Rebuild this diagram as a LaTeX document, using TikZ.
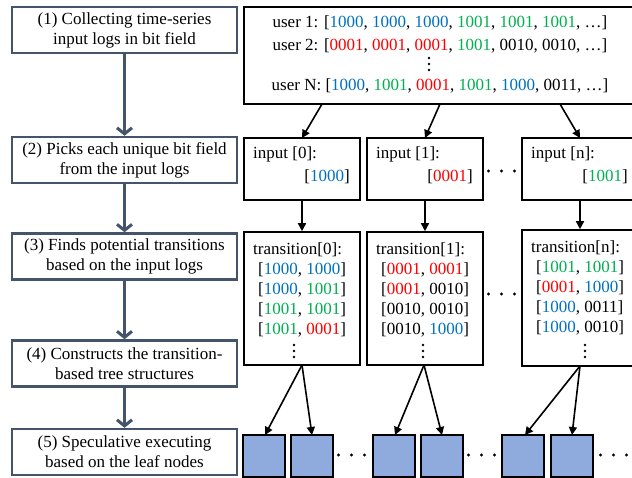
\documentclass[tikz,border=0pt]{standalone}
\usepackage{fontspec}
\setmainfont{Liberation Serif}
\usetikzlibrary{arrows.meta}
\definecolor{slate}{RGB}{68,84,106}
\definecolor{cb}{RGB}{0,112,192}
\definecolor{cg}{RGB}{0,176,80}
\definecolor{cr}{RGB}{255,0,0}
\definecolor{leaf}{RGB}{143,170,220}
\newcommand{\B}[1]{\textcolor{cb}{#1}}
\newcommand{\G}[1]{\textcolor{cg}{#1}}
\newcommand{\R}[1]{\textcolor{cr}{#1}}
\tikzset{
  stepbox/.style={draw=slate, line width=2.5pt, minimum width=225pt, minimum height=46pt, align=center, inner sep=0pt, font=\fontsize{17}{20}\selectfont},
  flowarrow/.style={draw=slate, line width=3pt, -{Straight Barb[length=6pt,width=15pt,line width=3pt]}},
  blk/.style={draw=black, line width=1.6pt, inner sep=0pt},
  txt/.style={font=\fontsize{17}{20}\selectfont, inner sep=0pt},
  blkarrow/.style={draw=black, line width=1.6pt, -{Triangle[length=8pt,width=8pt]}},
  leafbox/.style={draw=black, line width=2pt, fill=leaf, minimum width=42pt, minimum height=42pt, inner sep=0pt},
  vdot/.pic={\foreach \d in {-6,0,6} \fill (0,\d) circle (1.3pt);}
}
\begin{document}
\begin{tikzpicture}[x=1pt,y=-1pt]
\useasboundingbox (0,0) rectangle (632,477);
\clip (0,0) rectangle (632,477);
% left flow
\node[stepbox] (s1) at (124.5,30) {(1) Collecting time-series\\input logs in bit field};
\node[stepbox] (s2) at (124.5,160) {(2) Picks each unique bit field\\from the input logs};
\node[stepbox] (s3) at (124.5,256.5) {(3) Finds potential transitions\\based on the input logs};
\node[stepbox] (s4) at (124.5,363.5) {(4) Constructs the transition-\\based tree structures};
\node[stepbox] (s5) at (124.5,452) {(5) Speculative executing\\based on the leaf nodes};
\draw[flowarrow] (s1) -- (s2);
\draw[flowarrow] (s2) -- (s3);
\draw[flowarrow] (s3) -- (s4);
\draw[flowarrow] (s4) -- (s5);
% logs box
\node[blk, minimum width=400pt, minimum height=97pt] (logs) at (444,55.5) {};
\node[txt] (u1) at (440,23) {user 1: [\B{1000}, \B{1000}, \B{1000}, \G{1001}, \G{1001}, \G{1001}, \dots]};
\node[txt] (u2) at (440,46) {user 2: [\R{0001}, \R{0001}, \R{0001}, \G{1001}, 0010, 0010, \dots]};
\pic at (429,64) {vdot};
\node[txt] (uN) at (440,86) {user N: [\B{1000}, \G{1001}, \R{0001}, \G{1001}, \B{1000}, 0011, \dots]};
% input boxes
\node[blk, minimum width=116pt, minimum height=62pt] (in0) at (302,169) {};
\node[blk, minimum width=116pt, minimum height=62pt] (in1) at (425,169) {};
\node[blk, minimum width=116pt, minimum height=62pt] (inn) at (580,169) {};
\node[txt, anchor=base west] (i0a) at (253,158) {input [0]:};
\node[txt, anchor=base east] (i0b) at (350,181) {[\B{1000}]};
\node[txt, anchor=base west] (i1a) at (376,158) {input [1]:};
\node[txt, anchor=base east] (i1b) at (473,181) {[\R{0001}]};
\node[txt, anchor=base west] (ina) at (531,158) {input [n]:};
\node[txt, anchor=base east] (inb) at (628,181) {[\G{1001}]};
\foreach \x in {488.5,501.5,514.5} \fill (\x,171) circle (1.7pt);
% arrows to inputs
\coordinate (l0) at (322,104);
\coordinate (l1) at (440,104);
\coordinate (ln) at (560,104);
\draw[blkarrow] (l0) -- (302,138);
\draw[blkarrow] (l1) -- (425,138);
\draw[blkarrow] (ln) -- (580,138);
% transition boxes
\node[blk, minimum width=116pt, minimum height=133pt] (tr0) at (302,298.5) {};
\node[blk, minimum width=116pt, minimum height=133pt] (tr1) at (425,298.5) {};
\node[blk, minimum width=116pt, minimum height=136pt] (trn) at (580,298) {};
\draw[blkarrow] (in0) -- (tr0);
\draw[blkarrow] (in1) -- (tr1);
\draw[blkarrow] (inn) -- (trn);
% tr0 text
\node[txt, anchor=base west] (t0h) at (253,254) {transition[0]:};
\node[txt, anchor=base west] (t0a) at (258,274) {[\B{1000}, \B{1000}]};
\node[txt, anchor=base west] (t0b) at (258,294) {[\B{1000}, \G{1001}]};
\node[txt, anchor=base west] (t0c) at (258,314) {[\G{1001}, \G{1001}]};
\node[txt, anchor=base west] (t0d) at (258,334) {[\G{1001}, \R{0001}]};
\pic at (294,351) {vdot};
% tr1 text
\node[txt, anchor=base west] (t1h) at (376,254) {transition[1]:};
\node[txt, anchor=base west] (t1a) at (381,274) {[\R{0001}, \R{0001}]};
\node[txt, anchor=base west] (t1b) at (381,294) {[\R{0001}, 0010]};
\node[txt, anchor=base west] (t1c) at (381,314) {[0010, 0010]};
\node[txt, anchor=base west] (t1d) at (381,334) {[0010, \B{1000}]};
\pic at (423,351) {vdot};
% trn text
\node[txt, anchor=base west] (tnh) at (531,252) {transition[n]:};
\node[txt, anchor=base west] (tna) at (536,272) {[\G{1001}, \G{1001}]};
\node[txt, anchor=base west] (tnb) at (536,292) {[\R{0001}, \B{1000}]};
\node[txt, anchor=base west] (tnc) at (536,312) {[\B{1000}, 0011]};
\node[txt, anchor=base west] (tnd) at (536,332) {[\B{1000}, 0010]};
\pic at (585,351) {vdot};
\foreach \x in {488.5,501.5,514.5} \fill (\x,294) circle (1.7pt);
% leaves
\node[leafbox] (f1) at (264,455.5) {};
\node[leafbox] (f2) at (312,455.5) {};
\node[leafbox] (f3) at (393.5,455.5) {};
\node[leafbox] (f4) at (442,455.5) {};
\node[leafbox] (f5) at (523,455.5) {};
\node[leafbox] (f6) at (572,455.5) {};
\foreach \x in {338.5,351.5,364.5} \fill (\x,455) circle (1.7pt);
\foreach \x in {468.5,481.5,494.5} \fill (\x,455) circle (1.7pt);
\foreach \x in {600.5,613.5,626.5} \fill (\x,455) circle (1.7pt);
\coordinate (b0) at (302,365);
\coordinate (b1) at (424,365);
\coordinate (bn) at (580,366);
\draw[blkarrow] (b0) -- (265,435);
\draw[blkarrow] (b0) -- (312,435);
\draw[blkarrow] (b1) -- (395,435);
\draw[blkarrow] (b1) -- (442,435);
\draw[blkarrow] (bn) -- (525,435);
\draw[blkarrow] (bn) -- (572,435);
\end{tikzpicture}
\end{document}
